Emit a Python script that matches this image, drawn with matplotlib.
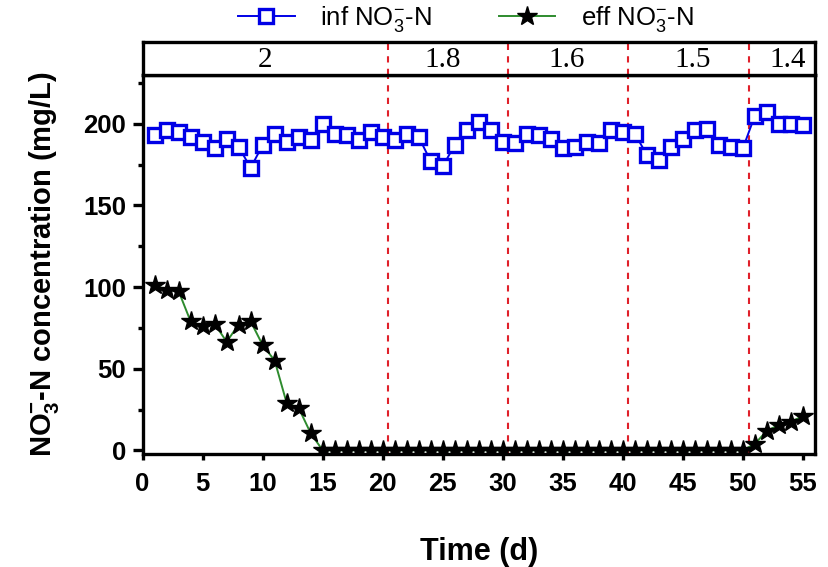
import matplotlib as mpl
mpl.use('Agg')
import matplotlib.pyplot as plt
from matplotlib.ticker import MultipleLocator

mpl.rcParams['font.family'] = ['Liberation Sans', 'DejaVu Sans']
mpl.rcParams['mathtext.default'] = 'regular'

# data
days = list(range(1, 56))
inf_no3 = [193, 196, 195, 192, 189, 185, 191, 186, 173, 187,
           194, 189, 192, 190, 200, 194, 193, 190, 195, 192,
           190, 194, 192, 177, 174, 187, 196, 201, 196, 189,
           188, 194, 193, 191, 185, 186, 189, 188, 196, 195,
           194, 181, 178, 186, 191, 196, 197, 187, 186, 185,
           205, 207, 200, 200, 199]
eff_no3 = [101, 98.5, 97.5, 79, 76, 77.5, 66.5, 77, 79, 64.5,
           55, 29, 26, 10.5] + [0] * 36 + [4, 12, 15.5, 17.5, 21]

phase_bounds = [20.4, 30.4, 40.4, 50.5]
phase_labels = ['2', '1.8', '1.6', '1.5', '1.4']
phase_label_x = [10.2, 25.0, 35.3, 45.8, 53.7]

SPINE_W = 2.4
RED = '#e0202a'

fig = plt.figure(figsize=(8.29, 5.67), dpi=100)
ax = fig.add_axes([0.172, 0.2, 0.811, 0.668])
top = fig.add_axes([0.172, 0.868, 0.811, 0.058], sharex=ax)

l1, = ax.plot(days, inf_no3, color='#0000e6', lw=1.4, marker='s', ms=10,
              mfc='white', mec='#0000e6', mew=2.4, label='inf NO$_3^{-}$-N',
              zorder=3)
l2, = ax.plot(days, eff_no3, color='#2e8b2e', lw=1.4, marker='*', ms=15,
              mfc='black', mec='black', label='eff NO$_3^{-}$-N', zorder=3)

for xb in phase_bounds:
    ax.axvline(xb, color=RED, ls=(0, (3, 3)), lw=1.5, zorder=2)
    top.axvline(xb, color=RED, ls=(0, (3, 3)), lw=1.5)

ax.set_xlim(0, 56)
ax.set_ylim(-2, 230)
ax.xaxis.set_major_locator(MultipleLocator(5))
ax.yaxis.set_major_locator(MultipleLocator(50))
ax.yaxis.set_minor_locator(MultipleLocator(25))
ax.tick_params(which='major', direction='out', width=SPINE_W,
               labelsize=18.5)
ax.tick_params(axis='y', which='major', length=7, pad=5)
ax.tick_params(axis='x', which='major', length=4, pad=9)
ax.tick_params(which='minor', axis='y', direction='out', length=3.5,
               width=SPINE_W)
for lab in ax.get_xticklabels() + ax.get_yticklabels():
    lab.set_fontweight('bold')
for s in ax.spines.values():
    s.set_linewidth(SPINE_W)

ax.set_xlabel('Time (d)', fontsize=22, fontweight='bold', labelpad=30)
ax.set_ylabel('NO$_3^{-}$-N concentration (mg/L)', fontsize=21,
              fontweight='bold', labelpad=16)

# phase strip on top
top.set_ylim(0, 1)
top.tick_params(left=False, bottom=False, labelleft=False, labelbottom=False)
for s in top.spines.values():
    s.set_linewidth(SPINE_W)
for xl, txt in zip(phase_label_x, phase_labels):
    top.text(xl, 0.45, txt, ha='center', va='center', fontsize=21,
             family='Liberation Serif')

fig.legend(handles=[l1, l2], loc='center', bbox_to_anchor=(0.562, 0.966),
           ncol=2, frameon=False, fontsize=18.5, handlelength=2.2,
           columnspacing=2.6, handletextpad=1.0)

fig.savefig('out.png', dpi=100)
